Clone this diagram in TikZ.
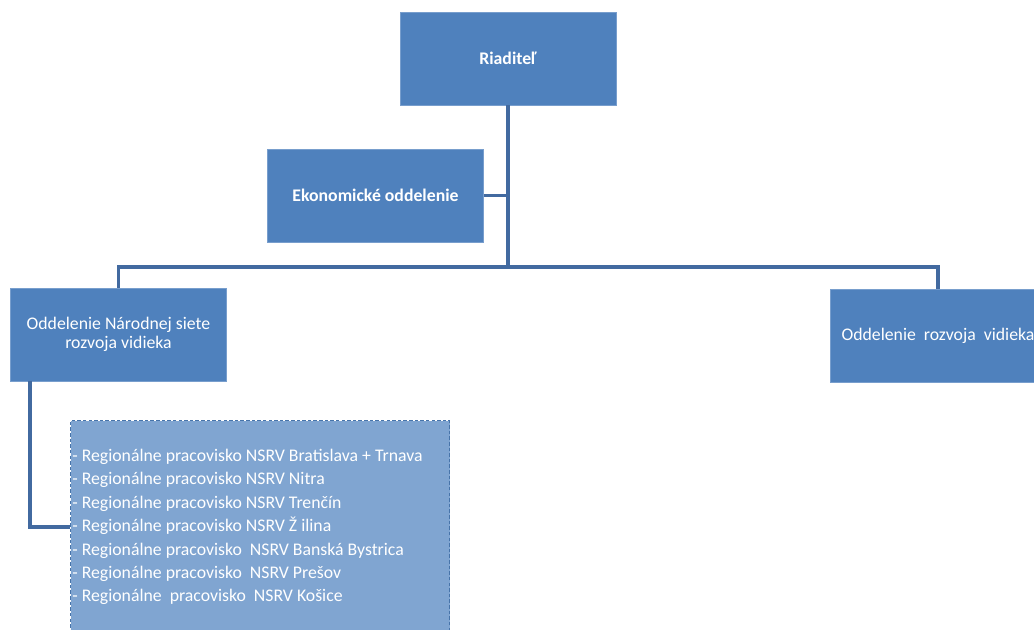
\documentclass[tikz,border=0pt]{standalone}
\usepackage{fontspec}
\setmainfont{Carlito}
\usetikzlibrary{positioning}
\definecolor{boxblue}{RGB}{79,129,189}
\definecolor{boxedge}{RGB}{120,158,205}
\definecolor{linkblue}{RGB}{66,106,160}
\definecolor{listblue}{RGB}{128,165,209}
\newcommand\unitfont{\fontsize{10.1}{10.5}\selectfont}
\newcommand\listfont{\fontsize{10.1}{13.3}\selectfont}

\begin{document}
\begin{tikzpicture}[x=0.02cm, y=-0.02cm,
  unit/.style={rectangle, fill=boxblue, draw=boxedge, line width=0.5pt,
    text=white, align=center, font=\unitfont,
    minimum width=4.32cm, minimum height=1.86cm},
  link/.style={draw=linkblue, line width=2.2pt}]
  % Organisation chart, pixel coordinates (y grows downwards)
  \useasboundingbox (0,0) rectangle (1034,629);
  \begin{scope}
    \clip (0,0) rectangle (1034,629);
    % Units
    \node[unit, font=\unitfont\bfseries] (riad) at (508,58.5) {Riaditeľ};
    \node[unit, font=\unitfont\bfseries] (ekon) at (375.5,195.5) {Ekonomické oddelenie};
    \node[unit] (nsrv) at (118.5,334.5) {Oddelenie Národnej siete\\rozvoja vidieka};
    \node[unit] (rozvoj) at (938,336) {Oddelenie\ \ rozvoja\ \ vidieka};
    % Regional offices (dashed box, runs off the bottom)
    \node[rectangle, draw=boxblue!90!black, fill=listblue, line width=0.8pt,
      dash pattern=on 2pt off 1.2pt, anchor=north west, inner sep=0,
      minimum width=7.58cm, minimum height=4.5cm] (regbox) at (70,420) {};
    \node[anchor=west, align=left, text=white, font=\listfont, inner sep=0]
      (reglist) at (72,527) {%
      - Regionálne pracovisko NSRV Bratislava + Trnava\\
      - Regionálne pracovisko NSRV Nitra\\
      - Regionálne pracovisko NSRV Trenčín\\
      - Regionálne pracovisko NSRV Ž ilina\\
      - Regionálne pracovisko\ \ NSRV Banská Bystrica\\
      - Regionálne pracovisko\ \ NSRV Prešov\\
      - Regionálne\ \ pracovisko\ \ NSRV Košice};
    % Connectors
    \coordinate (hub) at (508,267);
    \coordinate (nsrvfoot) at ([xshift=0.4cm]nsrv.south west);
    \draw[link] (riad.south) -- (hub);
    \draw[link] (ekon.east) -- (ekon.east -| hub);
    \draw[link] (nsrv.north) |- (hub) -| (rozvoj.north);
    \draw[link] (nsrvfoot) |- (regbox.west |- reglist.west);
  \end{scope}
\end{tikzpicture}
\end{document}
